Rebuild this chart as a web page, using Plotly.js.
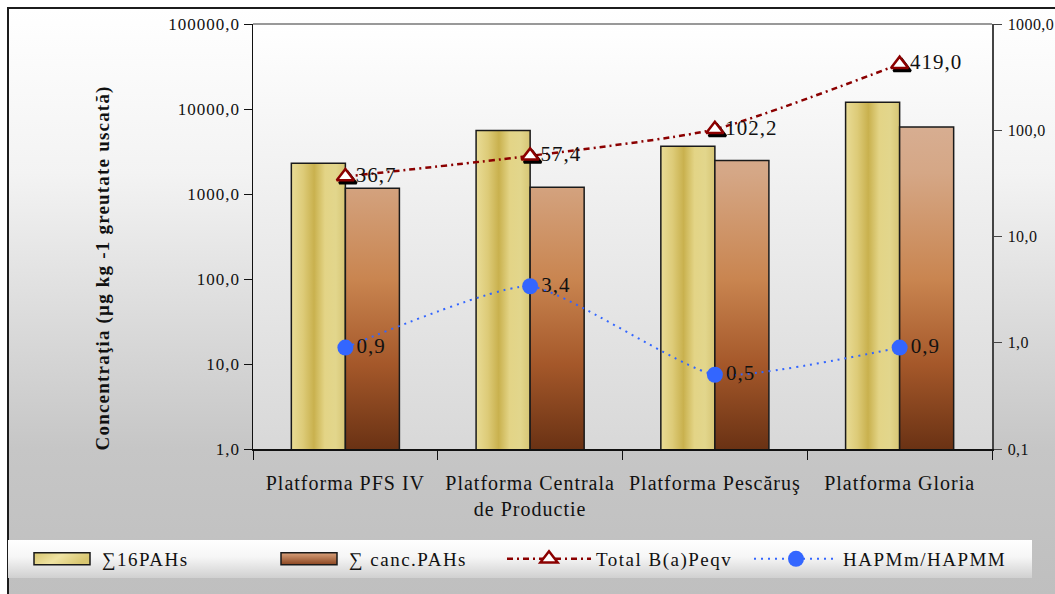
<!DOCTYPE html>
<html><head><meta charset="utf-8">
<script src="https://cdn.plot.ly/plotly-3.0.1.min.js"></script>
<style>
html,body{margin:0;padding:0;background:#fff;overflow:hidden;}
#frame{position:absolute;left:7px;top:7px;width:1060px;height:587px;border-left:2px solid #1c1c1c;border-top:2px solid #1c1c1c;
background:linear-gradient(to bottom,#ffffff 0%,#f3f3f3 28%,#dcdcdc 52%,#c6c6c6 75%,#bfbfbf 100%);}
#chart{position:absolute;left:0;top:0;width:1055px;height:594px;}
#chart .xtick text{letter-spacing:1px;}
#chart .ytick text{letter-spacing:1px;}
#chart .y2tick text{letter-spacing:0.4px;}
#chart .textpoint text{letter-spacing:1px;}
#chart .legendtext{letter-spacing:1.5px;}
#chart .annotation-text{letter-spacing:1.2px;}
</style></head><body>
<div id="frame"></div>
<div id="chart"></div>
<script>
const categories = ['Platforma PFS IV', 'Platforma Centrala<br>de Productie', 'Platforma Pescăruş', 'Platforma Gloria'];
const sum16PAHs = [2300, 5600, 3650, 12000];
const cancPAHs = [1170, 1200, 2480, 6150];
const totalBaPeqv = [36.7, 57.4, 102.2, 419.0];
const hapmRatio = [0.9, 3.4, 0.5, 0.9];
const leftTicks = [1, 10, 100, 1000, 10000, 100000];
const leftTickText = ['1,0', '10,0', '100,0', '1000,0', '10000,0', '100000,0'];
const rightTicks = [0.1, 1, 10, 100, 1000];
const rightTickText = ['0,1', '1,0', '10,0', '100,0', '1000,0'];
const seriesNames = ['∑16PAHs', '∑ canc.PAHs', 'Total B(a)Peqv', 'HAPMm/HAPMM'];
const yTitle = 'Concentraţia (µg kg -1 greutate uscată)';

const fmt = v => v.toFixed(1).replace('.', ',');
const serif = 'Liberation Serif, Times New Roman, serif';

const traces = [
  {type: 'bar', name: seriesNames[0], x: categories, y: sum16PAHs,
   marker: {color: '#dcc874', line: {color: '#1a1a1a', width: 1.5}}, hoverinfo: 'skip'},
  {type: 'bar', name: seriesNames[1], x: categories, y: cancPAHs,
   marker: {color: '#b06a3c', line: {color: '#1a1a1a', width: 1.5}}, hoverinfo: 'skip'},
  {type: 'scatter', mode: 'lines+markers+text', name: seriesNames[2], x: categories, y: totalBaPeqv, yaxis: 'y2',
   line: {color: '#8b0000', width: 2.5, dash: '6px,4px,2px,4px', shape: 'spline', smoothing: 0.6},
   marker: {symbol: 'triangle-up', size: 15, color: '#ffffff', line: {color: '#8b0000', width: 2.5}},
   text: totalBaPeqv.map(fmt), textposition: 'middle right',
   textfont: {family: serif, size: 21, color: '#111'}, hoverinfo: 'skip'},
  {type: 'scatter', mode: 'lines+markers+text', name: seriesNames[3], x: categories, y: hapmRatio, yaxis: 'y2',
   line: {color: '#3366ff', width: 2, dash: '2px,5px', shape: 'spline', smoothing: 0.5},
   marker: {symbol: 'circle', size: 16, color: '#3366ff'},
   text: hapmRatio.map(fmt), textposition: 'middle right',
   textfont: {family: serif, size: 21, color: '#111'}, hoverinfo: 'skip'}
];

const layout = {
  width: 1055, height: 594,
  margin: {l: 253, r: 63, t: 24, b: 145, autoexpand: false},
  paper_bgcolor: 'rgba(0,0,0,0)',
  plot_bgcolor: '#eeeeee',
  barmode: 'group', bargap: 0.415, bargroupgap: 0,
  font: {family: serif, color: '#111', size: 16},
  showlegend: true,
  xaxis: {
    type: 'category', showline: true, linecolor: '#111', linewidth: 1.5,
    ticks: 'outside', tickson: 'boundaries', ticklen: 9, tickcolor: '#111',
    tickfont: {family: serif, size: 20, color: '#111'}, ticklabelstandoff: 15,
    showgrid: false, zeroline: false
  },
  yaxis: {
    type: 'log', range: [0, 5], tickvals: leftTicks, ticktext: leftTickText,
    showline: true, linecolor: '#111', linewidth: 1.5,
    ticks: 'outside', ticklen: 8, tickcolor: '#111', ticklabelstandoff: 0,
    tickfont: {family: serif, size: 17, color: '#111'},
    showgrid: false, zeroline: false
  },
  yaxis2: {
    type: 'log', range: [-1, 3], overlaying: 'y', side: 'right',
    tickvals: rightTicks, ticktext: rightTickText,
    showline: true, linecolor: '#444', linewidth: 1.5,
    ticks: 'outside', ticklen: 8, tickcolor: '#444', ticklabelstandoff: 3,
    tickfont: {family: serif, size: 16, color: '#111'},
    showgrid: false, zeroline: false
  },
  annotations: [{
    text: '<b>' + yTitle + '</b>', textangle: -90, showarrow: false,
    xref: 'paper', yref: 'paper', x: (103 - 253) / 739, y: (449 - 268) / 425,
    xanchor: 'center', yanchor: 'middle',
    font: {family: serif, size: 19, color: '#111'}
  }],
  shapes: [{type: 'line', xref: 'paper', yref: 'paper', x0: 0, x1: 1, y0: 1, y1: 1, line: {color: '#777', width: 1.5}}],
  legend: {
    orientation: 'h', xref: 'paper', yref: 'paper', x: (8 - 253) / 739, y: (449 - 540) / 425,
    xanchor: 'left', yanchor: 'top', entrywidth: 148, entrywidthmode: 'pixels', itemwidth: 84,
    bgcolor: '#f0f0f0', borderwidth: 0, font: {family: serif, size: 19, color: '#111'},
    traceorder: 'normal'
  }
};

function addGradients(gd) {
  const NS = 'http://www.w3.org/2000/svg';
  const svg = gd.querySelector('svg.main-svg');
  let defs = svg.querySelector('defs');
  if (!defs) { defs = document.createElementNS(NS, 'defs'); svg.insertBefore(defs, svg.firstChild); }
  function lg(id, attrs, stops) {
    const g = document.createElementNS(NS, 'linearGradient');
    g.setAttribute('id', id);
    for (const k in attrs) g.setAttribute(k, attrs[k]);
    stops.forEach(([o, c]) => { const s = document.createElementNS(NS, 'stop'); s.setAttribute('offset', o); s.setAttribute('stop-color', c); g.appendChild(s); });
    defs.appendChild(g);
  }
  const h = gd._fullLayout._size.h;
  lg('gGold', {x1: 0, y1: 0, x2: 1, y2: 0.08}, [[0, '#e9dc96'], [0.22, '#ddcb78'], [0.42, '#c9b14e'], [0.62, '#e3d486'], [0.82, '#e2d68c'], [1, '#d6c574']]);
  lg('gBrown', {x1: 0, y1: 0, x2: 0, y2: h, gradientUnits: 'userSpaceOnUse'}, [[0, '#dcbcaa'], [0.35, '#d5a786'], [0.6, '#c98550'], [0.8, '#a5582a'], [1, '#6a3214']]);
  lg('gPlot', {x1: 0, y1: 0, x2: 0, y2: 1}, [[0, '#ffffff'], [1, '#d8d8d8']]);
  lg('gLeg', {x1: 0, y1: 0, x2: 0, y2: 1}, [[0, '#ffffff'], [0.45, '#f6f6f6'], [1, '#d0d0d0']]);
  lg('gGoldLeg', {x1: 0, y1: 0, x2: 1, y2: 0.3}, [[0, '#d8c670'], [0.5, '#efe3a2'], [1, '#d8c670']]);
  lg('gBrownLeg', {x1: 0, y1: 0, x2: 0, y2: 1}, [[0, '#d9a07a'], [1, '#8a4520']]);
  const barTraces = gd.querySelectorAll('.barlayer .trace');
  if (barTraces[0]) barTraces[0].querySelectorAll('path').forEach(p => p.style.fill = 'url(#gGold)');
  if (barTraces[1]) barTraces[1].querySelectorAll('path').forEach(p => p.style.fill = 'url(#gBrown)');
  gd.querySelectorAll('rect.bg').forEach(r => {
    if (r.closest('.legend')) {
      r.style.fill = 'url(#gLeg)';
      r.setAttribute('width', 1024);
    } else r.style.fill = 'url(#gPlot)';
  });
  const scrollbox = gd.querySelector('.legend .scrollbox');
  if (scrollbox) scrollbox.removeAttribute('clip-path');
  const legItems = gd.querySelectorAll('.legend .traces');
  legItems.forEach((it, i) => {
    const bp = it.querySelector('path.legendbar, .legendpoints path');
    if (i < 2 && bp) {
      bp.setAttribute('d', 'M-21,-6H35V6H-21Z');
      bp.style.fill = i === 0 ? 'url(#gGoldLeg)' : 'url(#gBrownLeg)';
      bp.style.stroke = '#1a1a1a'; bp.style.strokeWidth = '1.5px';
    }
  });
  // drop shadow behind the triangle markers
  const sTraces = gd.querySelectorAll('.scatterlayer .trace');
  if (sTraces[0]) {
    sTraces[0].querySelectorAll('.points path.point').forEach(p => {
      const c = p.cloneNode(true);
      const m = /translate\(([-\d.]+),\s*([-\d.]+)\)/.exec(p.getAttribute('transform') || '');
      if (!m) return;
      c.setAttribute('transform', 'translate(' + (parseFloat(m[1]) + 2.5) + ',' + (parseFloat(m[2]) + 3) + ')');
      c.style.fill = '#000'; c.style.stroke = '#000';
      p.parentNode.insertBefore(c, p);
    });
  }
}

Plotly.newPlot('chart', traces, layout, {staticPlot: true, displayModeBar: false}).then(addGradients);
</script>
</body></html>
